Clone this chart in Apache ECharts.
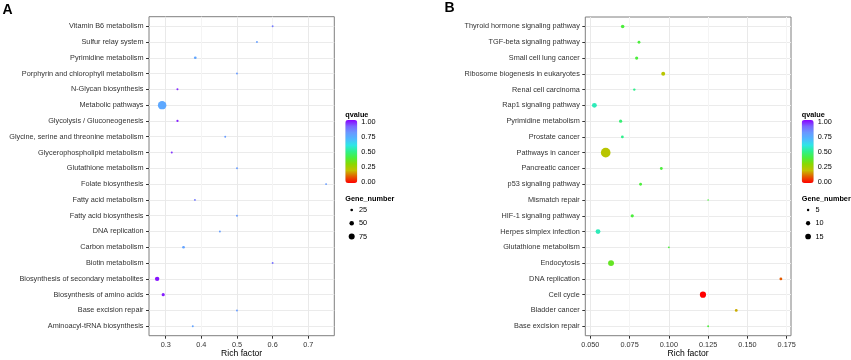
<!DOCTYPE html>
<html>
<head>
<meta charset="utf-8">
<script src="https://cdn.jsdelivr.net/npm/echarts@6/dist/echarts.min.js"></script>
<style>
  html, body { margin: 0; padding: 0; background: #fff; }
  #main { width: 851px; height: 360px; }
</style>
</head>
<body>
<div id="main"></div>
<script>
// panel A
const catsA = ['Vitamin B6 metabolism', 'Sulfur relay system', 'Pyrimidine metabolism', 'Porphyrin and chlorophyll metabolism',
  'N-Glycan biosynthesis', 'Metabolic pathways', 'Glycolysis / Gluconeogenesis', 'Glycine, serine and threonine metabolism',
  'Glycerophospholipid metabolism', 'Glutathione metabolism', 'Folate biosynthesis', 'Fatty acid metabolism',
  'Fatty acid biosynthesis', 'DNA replication', 'Carbon metabolism', 'Biotin metabolism',
  'Biosynthesis of secondary metabolites', 'Biosynthesis of amino acids', 'Base excision repair', 'Aminoacyl-tRNA biosynthesis'];
const richA = [0.6, 0.556, 0.383, 0.5, 0.333, 0.29, 0.333, 0.467, 0.317, 0.5, 0.75, 0.382, 0.5, 0.452, 0.35, 0.6, 0.276, 0.293, 0.5, 0.376];
const qvalA = [0.86, 0.78, 0.76, 0.79, 0.96, 0.75, 0.97, 0.79, 0.95, 0.79, 0.79, 0.86, 0.79, 0.78, 0.77, 0.88, 0.98, 0.97, 0.79, 0.77];
const genesA = [3, 5, 25, 4, 18, 130, 20, 7, 18, 5, 3, 17, 5, 17, 25, 3, 48, 30, 5, 17];
const xTicksA = [0.3, 0.4, 0.5, 0.6, 0.7];
const sizeTicksA = [25, 50, 75];

// panel B
const catsB = ['Thyroid hormone signaling pathway', 'TGF-beta signaling pathway', 'Small cell lung cancer', 'Ribosome biogenesis in eukaryotes',
  'Renal cell carcinoma', 'Rap1 signaling pathway', 'Pyrimidine metabolism', 'Prostate cancer', 'Pathways in cancer',
  'Pancreatic cancer', 'p53 signaling pathway', 'Mismatch repair', 'HIF-1 signaling pathway', 'Herpes simplex infection',
  'Glutathione metabolism', 'Endocytosis', 'DNA replication', 'Cell cycle', 'Bladder cancer', 'Base excision repair'];
const richB = [0.0706, 0.081, 0.0795, 0.0964, 0.078, 0.0526, 0.0693, 0.0704, 0.0598, 0.0952, 0.082, 0.125, 0.0767, 0.0549, 0.1, 0.0632, 0.1713, 0.1217, 0.1429, 0.125];
const qvalB = [0.4, 0.4, 0.4, 0.22, 0.5, 0.55, 0.47, 0.5, 0.22, 0.4, 0.4, 0.4, 0.4, 0.55, 0.4, 0.36, 0.1, 0.0, 0.18, 0.4];
const genesB = [8, 6, 7, 9, 5, 12, 7, 6, 34, 6, 6, 3, 7, 12, 4, 16, 6, 17, 6, 4];
const xTicksB = [0.05, 0.075, 0.1, 0.125, 0.15, 0.175];
const sizeTicksB = [5, 10, 15];

const qTicks = [0, 0.25, 0.5, 0.75, 1];
const qColors = ['#ff0000', '#e45a00', '#c4c000', '#8ad800', '#4cee3c', '#2ef08c', '#2ee6e6', '#50b8ff', '#6a98ff', '#7a66ff', '#8a00ff'];

const FONT = '"Liberation Sans", Arial, Helvetica, sans-serif';
const hidden = { type: 'value', show: false, min: 0, max: 1 };

const grid = [], xAxis = [], yAxis = [], series = [], visualMap = [], graphic = [];

// one x and one y axis per grid, so axis index == grid index
function addGrid(g, xa, ya) {
    grid.push(g);
    const gi = grid.length - 1;
    xAxis.push(Object.assign({ gridIndex: gi }, xa));
    yAxis.push(Object.assign({ gridIndex: gi }, ya));
    return gi;
}

function label(text, x, y, size, bold, align) {
    graphic.push({
        type: 'text', x: x, y: y, silent: true,
        style: {
            text: text, fill: '#000', align: align || 'left', verticalAlign: 'middle',
            font: (bold ? 'bold ' : '') + size + 'px ' + FONT
        }
    });
}

function panel(o) {
    const n = o.cats.length;
    const pad = 0.6;
    const unit = o.h / (n - 1 + 2 * pad);
    const catTop = o.top + pad * unit;

    // panel frame
    addGrid({ left: o.left, top: o.top, width: o.w, height: o.h, show: true, borderColor: '#7f7f7f', borderWidth: 1, backgroundColor: 'transparent' }, hidden, hidden);

    // category labels + horizontal grid lines
    addGrid({ left: o.left, top: catTop, width: o.w, height: (n - 1) * unit }, hidden, {
        type: 'category', data: o.cats, inverse: true, boundaryGap: false,
        axisLine: { show: false, onZero: false },
        axisTick: { show: true, length: 3, interval: 0, lineStyle: { color: '#333' } },
        axisLabel: { interval: 0, margin: 5.5, fontSize: 7.3, color: '#333', fontFamily: FONT },
        splitLine: { show: true, interval: 0, lineStyle: { color: '#ebebeb', width: 1 } }
    });

    // data grid, x scale + vertical grid lines
    const gi = addGrid({ left: o.px0, top: o.top, width: o.pw, height: o.h }, {
        type: 'value', min: o.xMin, max: o.xMax, interval: o.step,
        axisLine: { show: false, onZero: false },
        axisTick: { show: true, length: 3, customValues: o.ticks, lineStyle: { color: '#333' } },
        axisLabel: { customValues: o.ticks, formatter: v => v.toFixed(o.digits), margin: 5.3, fontSize: 7.3, color: '#333', fontFamily: FONT },
        splitLine: { show: true, lineStyle: { color: ['#e9e9e9', '#f4f4f4'], width: 1 } }
    }, { type: 'value', show: false, min: -pad, max: n - 1 + pad, inverse: true });

    series.push({
        type: 'scatter', xAxisIndex: gi, yAxisIndex: gi, clip: false,
        symbolSize: v => o.size(v[3]),
        itemStyle: { opacity: 1 },
        emphasis: { disabled: true },
        data: o.cats.map((c, i) => [o.rich[i], i, o.q[i], o.genes[i]])
    });

    visualMap.push({
        type: 'continuous', min: 0, max: 1, dimension: 2, seriesIndex: series.length - 1,
        left: o.lx, top: 120, itemWidth: 12, itemHeight: 63, padding: 0,
        calculable: false, hoverLink: false, inRange: { color: qColors }
    });

    // colour bar labels
    addGrid({ left: o.lx, top: 122, width: 12, height: 60 }, hidden, {
        type: 'value', min: 0, max: 1, interval: 0.25, position: 'right',
        axisLine: { show: false }, axisTick: { show: false }, splitLine: { show: false },
        axisLabel: { customValues: qTicks, formatter: v => v.toFixed(2), margin: 4, fontSize: 7.3, color: '#000', fontFamily: FONT }
    });

    // size legend
    const si = addGrid({ left: o.lx + 2.4, top: 210, width: 8, height: 26.5 }, { type: 'value', show: false, min: -1, max: 1 }, {
        type: 'category', data: o.sizeTicks.map(String), inverse: true, boundaryGap: false, position: 'right',
        axisLine: { show: false }, axisTick: { show: false },
        axisLabel: { interval: 0, margin: 3.3, fontSize: 7.3, color: '#000', fontFamily: FONT }
    });
    series.push({
        type: 'scatter', xAxisIndex: si, yAxisIndex: si, silent: true,
        itemStyle: { color: '#000', opacity: 1 },
        symbolSize: v => o.size(v[2]),
        data: o.sizeTicks.map((s, i) => [0, i, s])
    });

    label('qvalue', o.lx, 115, 7.3, true);
    label('Gene_number', o.lx, 199, 7.3, true);
    label('Rich factor', o.left + o.w / 2, 353.3, 8.6, false, 'center');
    label(o.tag, o.tagX, o.tagY, 14, true);
}

panel({
    tag: 'A', tagX: 2.5, tagY: 10,
    cats: catsA, rich: richA, q: qvalA, genes: genesA,
    left: 149, top: 16.7, w: 185.3, h: 319,
    px0: 165.7, pw: 160.4, xMin: 0.3, xMax: 0.75, step: 0.05, ticks: xTicksA, digits: 1,
    size: g => Math.max(1.9, 0.9 * Math.sqrt(g) - 1.8),
    lx: 345.3, sizeTicks: sizeTicksA
});

panel({
    tag: 'B', tagX: 444.5, tagY: 8.5,
    cats: catsB, rich: richB, q: qvalB, genes: genesB,
    left: 585.3, top: 17, w: 205.7, h: 318.7,
    px0: 590.3, pw: 196.4, xMin: 0.05, xMax: 0.175, step: 0.0125, ticks: xTicksB, digits: 3,
    size: g => Math.max(1.6, 2.02 * Math.sqrt(g) - 2.12),
    lx: 801.7, sizeTicks: sizeTicksB
});

const chart = echarts.init(document.getElementById('main'), null, { renderer: 'canvas' });
chart.setOption({
    animation: false,
    backgroundColor: '#fff',
    grid, xAxis, yAxis, series, visualMap, graphic
});
</script>
</body>
</html>
